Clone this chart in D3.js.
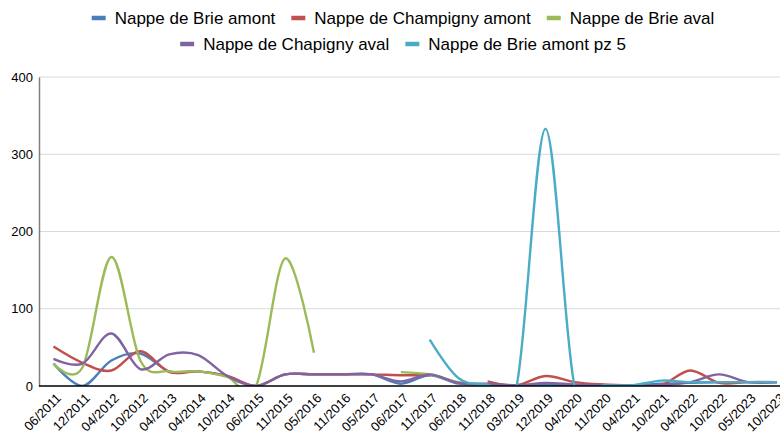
<!DOCTYPE html>
<html>
<head>
<meta charset="utf-8">
<script src="https://cdn.jsdelivr.net/npm/d3@7"></script>
<style>
  html, body { margin: 0; padding: 0; background: #fff; }
  svg { display: block; font-family: "Liberation Sans", Arial, sans-serif; }
</style>
</head>
<body>
<svg id="chart" width="780" height="436"></svg>
<script>
const categories = ["06/2011","12/2011","04/2012","10/2012","04/2013","04/2014","10/2014","06/2015","11/2015","05/2016","11/2016","05/2017","06/2017","11/2017","06/2018","11/2018","03/2019","12/2019","04/2020","11/2020","04/2021","10/2021","04/2022","10/2022","05/2023","10/2023"];

const brieAmont      = [29, 0, 33, 42, 19, 19, 13, 0, 15, 15, 15, 15, 3, 14, 3, 2, 1, 2, 1, 1, 1, 3, 4, 5, 5, 5];
const champignyAmont = [51, 30, 20, 45, 18, 19, 13, 0, 15, 15, 15, 15, 14, 14, null, 6, 1, 13, 5, 2, 1, 1, 20, 4, 5, 5];
const brieAval       = [29, 24, 167, 33, 19, 19, 12, 0, 165, 43, null, null, 18, 15, 5, 2, null, null, null, null, null, null, null, null, null, null];
const chapignyAval   = [35, 29, 68, 22, 41, 40, 13, 0, 15, 15, 15, 15, 6, 15, 4, 3, 1, 4, 2, 1, 1, 1, 5, 15, 5, 5];
const brieAmontPz5   = [null, null, null, null, null, null, null, null, null, null, null, null, null, 60, 10, 2, 0, 333, 1, 1, 1, 7, 5, 5, 5, 5];

const seriesNames = ["Nappe de Brie amont", "Nappe de Champigny amont", "Nappe de Brie aval", "Nappe de Chapigny aval", "Nappe de Brie amont pz 5"];
const seriesValues = [brieAmont, champignyAmont, brieAval, chapignyAval, brieAmontPz5];
const seriesColors = ["#4a7ebb", "#c0504d", "#9bbb59", "#8064a2", "#4bacc6"];
const yTicks = [0, 100, 200, 300, 400];

const svg = d3.select("#chart");
const plotLeft = 39, plotRight = 791.5, plotTop = 77, plotBottom = 386;

const x = d3.scalePoint().domain(categories).range([plotLeft, plotRight]).padding(0.5);
const y = d3.scaleLinear().domain([0, 400]).range([plotBottom, plotTop]);

// gridlines
svg.append("g").selectAll("line").data(yTicks.filter(d => d > 0)).join("line")
  .attr("x1", plotLeft).attr("x2", 780)
  .attr("y1", d => y(d)).attr("y2", d => y(d))
  .attr("stroke", "#d9d9d9").attr("stroke-width", 1.2);

// y axis
const yAxis = d3.axisLeft(y).tickValues(yTicks).tickSize(0).tickPadding(6);
const gy = svg.append("g").attr("transform", `translate(${plotLeft},0)`).call(yAxis);
gy.select(".domain").attr("stroke", "#7f7f7f").attr("stroke-width", 1.5);
gy.selectAll("text").attr("font-size", 13).attr("fill", "#000")
  .attr("font-family", "'Liberation Sans', Arial, sans-serif");

// clip
svg.append("clipPath").attr("id", "plotclip").append("rect")
  .attr("x", plotLeft).attr("y", 0).attr("width", 780 - plotLeft).attr("height", plotBottom);

const line = d3.line()
  .defined(d => d.v != null)
  .x(d => x(d.c))
  .y(d => y(d.v))
  .curve(d3.curveCardinal.tension(0));

const gLines = svg.append("g").attr("clip-path", "url(#plotclip)");
seriesValues.forEach((vals, i) => {
  gLines.append("path")
    .datum(categories.map((c, j) => ({ c, v: vals[j] })))
    .attr("d", line)
    .attr("fill", "none")
    .attr("stroke", seriesColors[i])
    .attr("stroke-width", 2.4)
    .attr("stroke-linejoin", "round")
    .attr("stroke-linecap", "butt");
});

// x axis baseline
const xAxis = d3.axisBottom(x).tickSize(0).tickPadding(0);
const gx = svg.append("g").attr("transform", `translate(0,${plotBottom})`).call(xAxis);
gx.select(".domain").attr("stroke", "#000").attr("stroke-width", 1.5)
  .attr("d", `M${plotLeft},0H780`);
gx.selectAll("text")
  .attr("font-size", 13).attr("fill", "#000")
  .attr("font-family", "'Liberation Sans', Arial, sans-serif")
  .attr("text-anchor", "end")
  .attr("dy", "0")
  .attr("y", 0)
  .attr("transform", "translate(8,13) rotate(-45)");

// legend
const legendRows = [[0, 1, 2], [3, 4]];
const rowY = [18, 44];
const centerX = 403;
legendRows.forEach((row, r) => {
  const g = svg.append("g");
  let cx = 0;
  row.forEach(i => {
    const item = g.append("g").attr("transform", `translate(${cx},0)`);
    item.append("line").attr("x1", 0).attr("x2", 14).attr("y1", 0).attr("y2", 0)
      .attr("stroke", seriesColors[i]).attr("stroke-width", 4.5);
    const t = item.append("text").attr("x", 23).attr("y", 0).attr("dy", "0.35em")
      .attr("font-size", 17).attr("fill", "#000").text(seriesNames[i]);
    cx += 23 + t.node().getComputedTextLength() + 16;
  });
  const w = cx - 16;
  g.attr("transform", `translate(${centerX - w / 2},${rowY[r]})`);
});
</script>
</body>
</html>
